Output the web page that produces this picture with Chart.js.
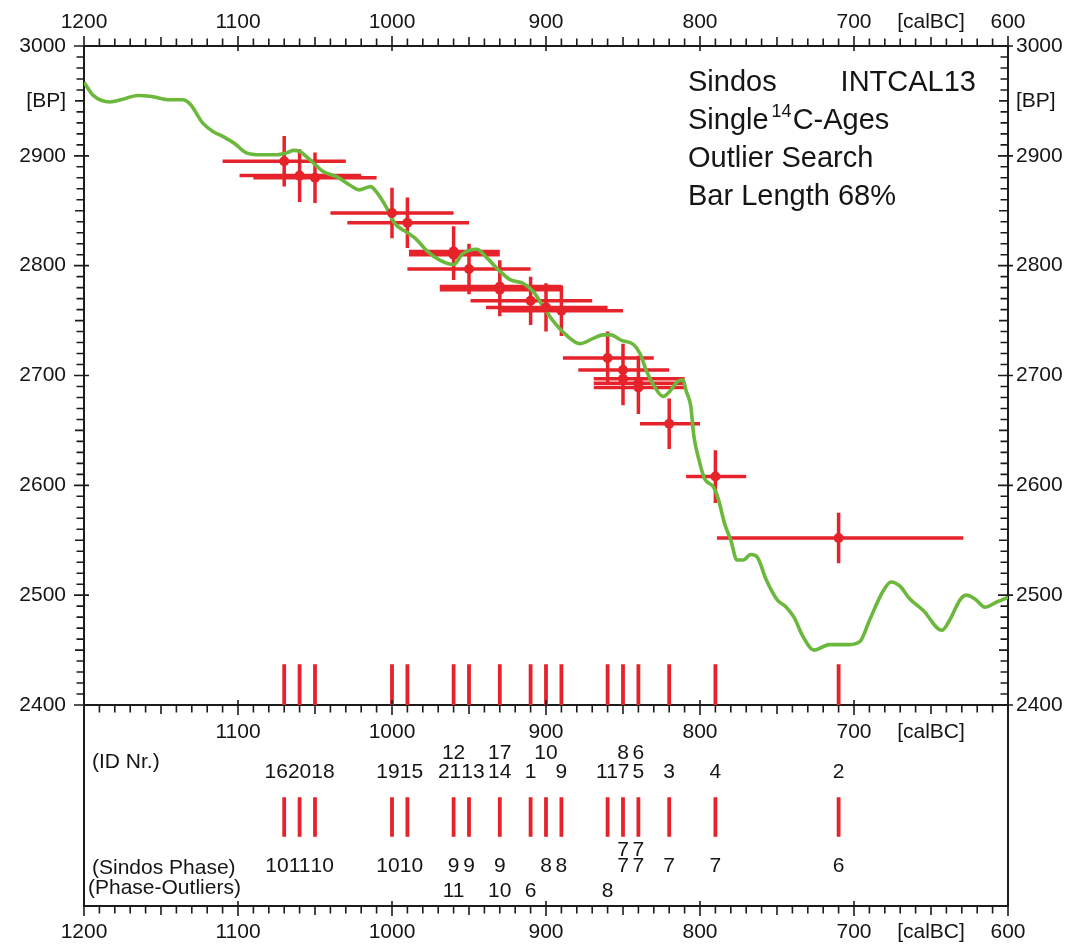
<!DOCTYPE html>
<html><head><meta charset="utf-8">
<script src="https://cdn.jsdelivr.net/npm/chart.js@4.4.0/dist/chart.umd.min.js"></script>
<style>
html,body{margin:0;padding:0;background:#fff;}
#wrap{position:relative;width:1081px;height:945px;}
.layer{position:absolute;left:0;top:0;width:1081px;height:945px;}
</style></head><body>
<div id="wrap">
  <div class="layer"><canvas id="mainChart"></canvas></div>
  <div class="layer"><canvas id="lowChart"></canvas></div>
</div>
<script>
// ---------------- DATA ----------------
// INTCAL13 calibration curve (cal BC, BP)
const curveYears = [1200,1194,1183,1176,1165,1156,1145,1136,1131,1123,1116,1109,1102,1095,1085,1075,1068,1064,1060,1053,1045,1036,1027,1021,1014,1010,1004,998,991,985,977,969,960,954,945,939,930,923,915,908,902,895,887,878,869,863,858,851,843,839,835,830,824,820,815,811,809,806,804,801,797,791,788,784,780,776,772,767,763,757,750,744,739,733,726,716,703,696,690,681,676,670,664,655,643,638,631,627,621,615,607,600];
const curveBP    = [2967,2955,2949,2951,2955,2954,2951,2951,2947,2930,2922,2917,2911,2903,2901,2901,2903,2905,2904,2896,2886,2881,2873,2869,2872,2867,2854,2838,2831,2825,2813,2805,2801,2811,2815,2808,2795,2787,2784,2776,2763,2749,2737,2729,2734,2737,2737,2732,2728,2720,2705,2691,2681,2685,2694,2696,2686,2672,2645,2625,2606,2598,2587,2565,2550,2532,2532,2537,2535,2514,2496,2489,2480,2462,2450,2455,2455,2458,2477,2504,2512,2508,2497,2486,2468,2477,2496,2500,2496,2489,2494,2498];

// Single 14C ages
const ids          = [16, 20, 18, 19, 15, 21, 12, 13, 14, 17, 1, 10, 9, 11, 7, 8, 5, 6, 3, 4, 2];
const calBC        = [1070,1060,1050,1000,990,960,960,950,930,930,910,900,890,860,850,850,840,840,820,790,710];
const bpAge        = [2895,2882,2880,2848,2839,2813,2810,2797,2778,2781,2768,2762,2759,2716,2705,2697,2693,2689,2656,2608,2552];
const bpErr        = [23,24,23,23,23,23,23,23,24,24,22,22,23,24,24,24,25,24,23,24,23];
const rangeOld     = [1110,1099,1090,1040,1029,989,989,990,969,969,949,939,929,889,879,869,869,869,839,809,789];
const rangeYoung   = [1030,1020,1010,960,950,930,930,910,890,890,870,860,850,830,820,810,810,810,800,770,629];
const sindosPhase  = [10,11,10,10,10,9,null,9,9,null,null,8,8,null,7,7,7,7,7,7,6];
const outlierPhase = [null,null,null,null,null,null,11,null,null,10,6,null,null,8,null,null,null,null,null,null,null];
const idTier       = [0,0,0,0,0,0,1,0,0,1,0,1,0,0,0,1,0,1,0,0,0];

// Axis tick labels
const xLabelYears = [1200,1100,1000,900,800,700,600];
const xUnitLabel = '[calBC]';
const yLabelBP = [3000,2900,2800,2700,2600,2500,2400];
const yUnitLabel = '[BP]';
const infoLines = ['Sindos', 'INTCAL13', 'Single', '14', 'C-Ages', 'Outlier Search', 'Bar Length 68%'];
const rowTitles = ['(ID Nr.)', '(Sindos Phase)', '(Phase-Outliers)'];

// ---------------- STYLE ----------------
const FONT = '"Liberation Sans", Arial, Helvetica, sans-serif';
const TXT = '#151515';
const AXIS = '#1c1c1c';
const RED = '#e6222a';
const GREEN = '#6bb83d';
Chart.defaults.font.family = FONT;
Chart.defaults.color = TXT;
const tickFont = {family: FONT, size: 21};

// ---------------- BUILD SERIES ----------------
const curvePts = curveYears.map((yr, i) => ({x: yr, y: curveBP[i]}));
const hSeg = [], vSeg = [], dots = [];
calBC.forEach((yr, i) => {
  hSeg.push({x: rangeOld[i], y: bpAge[i]}, {x: rangeYoung[i], y: bpAge[i]}, {x: rangeYoung[i], y: null});
  vSeg.push({x: yr, y: bpAge[i] + bpErr[i]}, {x: yr, y: bpAge[i] - bpErr[i]}, {x: yr, y: null});
  dots.push({x: yr, y: bpAge[i]});
});
const tickYears = [...new Set(calBC)];
const mainMarks = [];
tickYears.forEach(yr => mainMarks.push({x: yr, y: 2400}, {x: yr, y: 2437}, {x: yr, y: null}));

// lower panel levels (scale 0..100)
const LV = {idUpper: 76, idLower: 66.5, tickTop: 54.1, tickBottom: 34.5, phaseUpper: 27.6, phaseLower: 19.6, outlier: 7.6, idTitle: 71.6, phaseTitle: 18.9, outTitle: 8.8};
const lowMarks = [];
tickYears.forEach(yr => lowMarks.push({x: yr, y: LV.tickTop}, {x: yr, y: LV.tickBottom}, {x: yr, y: null}));

// ---------------- HELPERS ----------------
function xTickBuild(scale) {
  const t = xLabelYears.map(v => ({value: v}));
  t.push({value: 650});
  t.sort((a, b) => a.value - b.value);
  scale.ticks = t;
}
function yTickBuild(scale) {
  const t = yLabelBP.map(v => ({value: v}));
  t.push({value: 2950});
  t.sort((a, b) => a.value - b.value);
  scale.ticks = t;
}
const xLabel = v => v === 650 ? xUnitLabel : (xLabelYears.includes(v) ? String(v) : '');
const xInnerLabel = v => (v === 600 || v === 1200) ? '' : xLabel(v);
const yLabel = v => v === 2950 ? yUnitLabel : (yLabelBP.includes(v) ? String(v) : '');

function drawTicks(chart, list) {
  const ctx = chart.ctx;
  ctx.save();
  ctx.strokeStyle = AXIS;
  ctx.lineWidth = 1.6;
  list.forEach(a => {
    const sc = chart.scales[a.scale];
    ctx.beginPath();
    for (let v = a.min; v <= a.max; v += 10) {
      const p = sc.getPixelForValue(v);
      const major = v % 100 === 0, mid = v % 50 === 0;
      const out = major ? 10 : (mid ? 9 : 7.5);
      const inn = major ? 5 : 0;
      if (a.horizontal) {
        ctx.moveTo(p, a.pos - a.dir * inn);
        ctx.lineTo(p, a.pos + a.dir * out);
      } else {
        ctx.moveTo(a.pos - a.dir * inn, p);
        ctx.lineTo(a.pos + a.dir * out, p);
      }
    }
    ctx.stroke();
  });
  ctx.restore();
}

function spreadRow(items) {
  items.sort((a, b) => a.px - b.px);
  const layout = c => {
    let off = 0, sum = 0;
    c.items.forEach(it => { it.off = off + it.w / 2; off += it.w; sum += it.px - it.off; });
    c.left = sum / c.items.length; c.width = off;
  };
  let clusters = items.map(it => { const c = {items: [it]}; layout(c); return c; });
  let merged = true;
  while (merged) {
    merged = false;
    for (let i = 0; i < clusters.length - 1; i++) {
      const a = clusters[i], b = clusters[i + 1];
      if (a.left + a.width > b.left + 0.5) {
        const c = {items: a.items.concat(b.items)}; layout(c);
        clusters.splice(i, 2, c); merged = true; break;
      }
    }
  }
  clusters.forEach(c => c.items.forEach(it => { it.x = c.left + it.off; }));
  return items;
}

// ---------------- PLUGINS ----------------
const mainDeco = {
  id: 'mainDeco',
  afterDraw(chart) {
    const ca = chart.chartArea;
    drawTicks(chart, [
      {scale: 'xTop', horizontal: true, pos: ca.top, dir: -1, min: 600, max: 1200},
      {scale: 'x', horizontal: true, pos: ca.bottom, dir: 1, min: 600, max: 1200},
      {scale: 'y', horizontal: false, pos: ca.left, dir: -1, min: 2400, max: 3000},
      {scale: 'yR', horizontal: false, pos: ca.right, dir: -1, min: 2400, max: 3000}
    ]);
    const c = chart.ctx;
    c.save();
    c.fillStyle = TXT;
    c.textBaseline = 'alphabetic';
    const L = ca.left + 604;
    const big = '29px ' + FONT;
    c.font = big; c.textAlign = 'left';
    c.fillText(infoLines[0], L, 91);
    c.textAlign = 'right';
    c.fillText(infoLines[1], ca.left + 892, 91);
    c.textAlign = 'left';
    c.fillText(infoLines[2], L, 129);
    let x = L + c.measureText(infoLines[2]).width + 3;
    c.font = '18px ' + FONT;
    c.fillText(infoLines[3], x, 117);
    x += c.measureText(infoLines[3]).width + 1;
    c.font = big;
    c.fillText(infoLines[4], x, 129);
    c.fillText(infoLines[5], L, 167);
    c.fillText(infoLines[6], L, 205);
    c.restore();
  }
};

const lowDeco = {
  id: 'lowDeco',
  afterDraw(chart) {
    const ca = chart.chartArea;
    drawTicks(chart, [{scale: 'x', horizontal: true, pos: ca.bottom, dir: 1, min: 600, max: 1200}]);
    const c = chart.ctx, xs = chart.scales.x, ys = chart.scales.yl;
    c.save();
    c.fillStyle = TXT;
    c.font = '21px ' + FONT;
    c.textBaseline = 'middle';
    c.textAlign = 'left';
    c.fillText(rowTitles[0], ca.left + 8, ys.getPixelForValue(LV.idTitle));
    c.fillText(rowTitles[1], ca.left + 8, ys.getPixelForValue(LV.phaseTitle));
    c.fillText(rowTitles[2], ca.left + 4, ys.getPixelForValue(LV.outTitle));

    const mk = (txt, yr) => ({text: String(txt), px: xs.getPixelForValue(yr), w: c.measureText(String(txt)).width});
    const rows = {idLower: [], idUpper: [], phaseLower: [], phaseUpper: [], outlier: []};
    const phaseSeen = new Set();
    ids.forEach((id, i) => {
      (idTier[i] ? rows.idUpper : rows.idLower).push(mk(id, calBC[i]));
      if (sindosPhase[i] !== null) {
        if (phaseSeen.has(calBC[i])) rows.phaseUpper.push(mk(sindosPhase[i], calBC[i]));
        else { rows.phaseLower.push(mk(sindosPhase[i], calBC[i])); phaseSeen.add(calBC[i]); }
      }
      if (outlierPhase[i] !== null) rows.outlier.push(mk(outlierPhase[i], calBC[i]));
    });
    c.textAlign = 'center';
    Object.keys(rows).forEach(k => {
      const y = ys.getPixelForValue(LV[k]);
      spreadRow(rows[k]).forEach(it => c.fillText(it.text, it.x, y));
    });
    c.restore();
  }
};

// ---------------- MAIN CHART ----------------
const noGrid = {display: false, drawTicks: false, tickLength: 0};
const border = {display: true, color: AXIS, width: 2};

new Chart(document.getElementById('mainChart'), {
  type: 'line',
  data: {
    datasets: [
      {data: dots, xAxisID: 'x', yAxisID: 'y', showLine: false, pointRadius: 5, pointBackgroundColor: RED, pointBorderWidth: 0, order: 0},
      {data: curvePts, xAxisID: 'x', yAxisID: 'y', borderColor: GREEN, borderWidth: 3.6, pointRadius: 0, cubicInterpolationMode: 'monotone', fill: false, order: 1},
      {data: hSeg, xAxisID: 'x', yAxisID: 'y', borderColor: RED, borderWidth: 3.5, pointRadius: 0, spanGaps: false, borderCapStyle: 'butt', order: 2},
      {data: vSeg, xAxisID: 'x', yAxisID: 'y', borderColor: RED, borderWidth: 3.5, pointRadius: 0, spanGaps: false, borderCapStyle: 'butt', order: 2},
      {data: mainMarks, xAxisID: 'x', yAxisID: 'y', borderColor: RED, borderWidth: 3.8, pointRadius: 0, spanGaps: false, borderCapStyle: 'butt', order: 3}
    ]
  },
  options: {
    responsive: true, maintainAspectRatio: false, animation: false, events: [],
    layout: {padding: 0},
    plugins: {legend: {display: false}, tooltip: {enabled: false}, title: {display: false}},
    scales: {
      x: {type: 'linear', position: 'bottom', min: 600, max: 1200, reverse: true,
          afterBuildTicks: xTickBuild,
          ticks: {autoSkip: false, maxRotation: 0, padding: 15, font: tickFont, color: TXT, callback: v => xInnerLabel(v)},
          grid: noGrid, border: border,
          afterFit: s => { s.height = 240; }},
      xTop: {type: 'linear', position: 'top', min: 600, max: 1200, reverse: true,
          afterBuildTicks: xTickBuild,
          ticks: {autoSkip: false, maxRotation: 0, padding: 11, font: tickFont, color: TXT, callback: v => xLabel(v)},
          grid: noGrid, border: border,
          afterFit: s => { s.height = 46; }},
      y: {type: 'linear', position: 'left', min: 2400, max: 3000,
          afterBuildTicks: yTickBuild,
          ticks: {autoSkip: false, padding: 18, font: tickFont, color: TXT, callback: v => yLabel(v)},
          grid: noGrid, border: border,
          afterFit: s => { s.width = 84; }},
      yR: {type: 'linear', position: 'right', min: 2400, max: 3000,
          afterBuildTicks: yTickBuild,
          ticks: {autoSkip: false, padding: 8, font: tickFont, color: TXT, callback: v => yLabel(v)},
          grid: noGrid, border: border,
          afterFit: s => { s.width = 73; }}
    }
  },
  plugins: [mainDeco]
});

// ---------------- LOWER PANEL ----------------
new Chart(document.getElementById('lowChart'), {
  type: 'line',
  data: {
    datasets: [
      {data: lowMarks, xAxisID: 'x', yAxisID: 'yl', borderColor: RED, borderWidth: 3.8, pointRadius: 0, spanGaps: false, borderCapStyle: 'butt'}
    ]
  },
  options: {
    responsive: true, maintainAspectRatio: false, animation: false, events: [],
    layout: {padding: {top: 705, left: 0, right: 0, bottom: 0}},
    plugins: {legend: {display: false}, tooltip: {enabled: false}, title: {display: false}},
    scales: {
      x: {type: 'linear', position: 'bottom', min: 600, max: 1200, reverse: true,
          afterBuildTicks: xTickBuild,
          ticks: {autoSkip: false, maxRotation: 0, padding: 14, font: tickFont, color: TXT, callback: v => xLabel(v)},
          grid: noGrid, border: border,
          afterFit: s => { s.height = 39; }},
      yl: {type: 'linear', position: 'left', min: 0, max: 100,
          ticks: {display: false}, grid: noGrid, border: border,
          afterFit: s => { s.width = 84; }},
      yr: {type: 'linear', position: 'right', min: 0, max: 100,
          ticks: {display: false}, grid: noGrid, border: border,
          afterFit: s => { s.width = 73; }}
    }
  },
  plugins: [lowDeco]
});
</script>
</body></html>
